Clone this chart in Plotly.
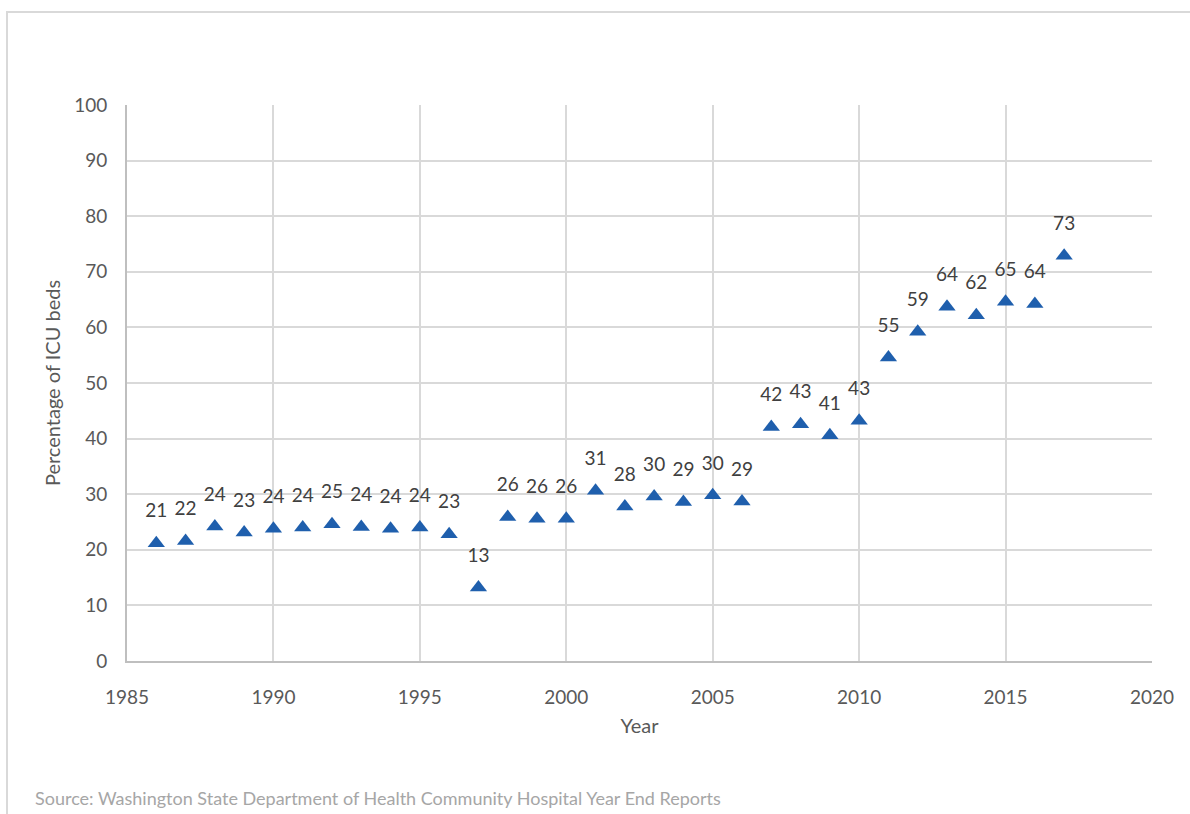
import plotly.graph_objects as go

# ICU bed share by year
years = [1986, 1987, 1988, 1989, 1990, 1991, 1992, 1993, 1994, 1995, 1996,
         1997, 1998, 1999, 2000, 2001, 2002, 2003, 2004, 2005, 2006, 2007,
         2008, 2009, 2010, 2011, 2012, 2013, 2014, 2015, 2016, 2017]
pct_icu = [21.2, 21.6, 24.2, 23.1, 23.8, 24.0, 24.6, 24.1, 23.8, 24.0, 22.8,
           13.2, 25.9, 25.6, 25.6, 30.6, 27.8, 29.6, 28.6, 29.8, 28.7, 42.1,
           42.6, 40.6, 43.2, 54.6, 59.2, 63.7, 62.2, 64.6, 64.2, 72.9]

x_ticks = [1985, 1990, 1995, 2000, 2005, 2010, 2015, 2020]
y_ticks = [0, 10, 20, 30, 40, 50, 60, 70, 80, 90, 100]

FONT = "Lato"
TICK_COLOR = "#595959"
GRID = "#d9d9d9"

fig = go.Figure()
# value labels, lifted above the markers by an invisible spacer marker
fig.add_trace(go.Scatter(
    x=years, y=pct_icu,
    mode="markers+text",
    marker=dict(symbol="circle", size=32, color="rgba(0,0,0,0)"),
    text=[f"{round(v)}" for v in pct_icu],
    textposition="top center",
    textfont=dict(family=FONT, size=19, color="#404040"),
    cliponaxis=False,
    hoverinfo="skip",
    showlegend=False,
))
fig.add_trace(go.Scatter(
    x=years, y=pct_icu,
    mode="markers",
    marker=dict(symbol="triangle-up", size=15, color="#1f5fad"),
    cliponaxis=False,
    showlegend=False,
))

# outer chart frame
fig.add_shape(type="rect", xref="paper", yref="paper",
              x0=(7 - 127) / 1025, x1=1.2, y0=-0.6, y1=(661 - 12) / 556,
              line=dict(color="#d9d9d9", width=2), fillcolor="rgba(0,0,0,0)",
              layer="below")

fig.add_annotation(
    text="Source: Washington State Department of Health Community Hospital Year End Reports",
    xref="paper", yref="paper", x=(33 - 127) / 1025, y=(661 - 798) / 556,
    xanchor="left", yanchor="middle", showarrow=False,
    font=dict(family=FONT, size=18, color="#a6a6a6"),
)

fig.update_xaxes(
    range=[1985, 2020], tickvals=x_ticks, ticktext=[str(t) for t in x_ticks],
    showgrid=True, gridcolor=GRID, gridwidth=1.5,
    showline=True, linecolor="#bfbfbf", linewidth=2,
    zeroline=False, ticks="", ticklabelstandoff=18,
    tickfont=dict(family=FONT, size=19, color=TICK_COLOR),
    title=dict(text="Year", font=dict(family=FONT, size=20, color=TICK_COLOR), standoff=12),
)
fig.update_yaxes(
    range=[0, 100], tickvals=y_ticks,
    showgrid=True, gridcolor=GRID, gridwidth=1.5,
    showline=True, linecolor="#bfbfbf", linewidth=2,
    zeroline=False, ticks="", ticklabelstandoff=14,
    tickfont=dict(family=FONT, size=19, color=TICK_COLOR),
    title=dict(text="Percentage of ICU beds", font=dict(family=FONT, size=20, color=TICK_COLOR), standoff=8),
)

fig.update_layout(
    width=1190, height=814,
    margin=dict(l=127, r=38, t=105, b=153),
    plot_bgcolor="white", paper_bgcolor="white",
)

fig.write_html("out.html")
